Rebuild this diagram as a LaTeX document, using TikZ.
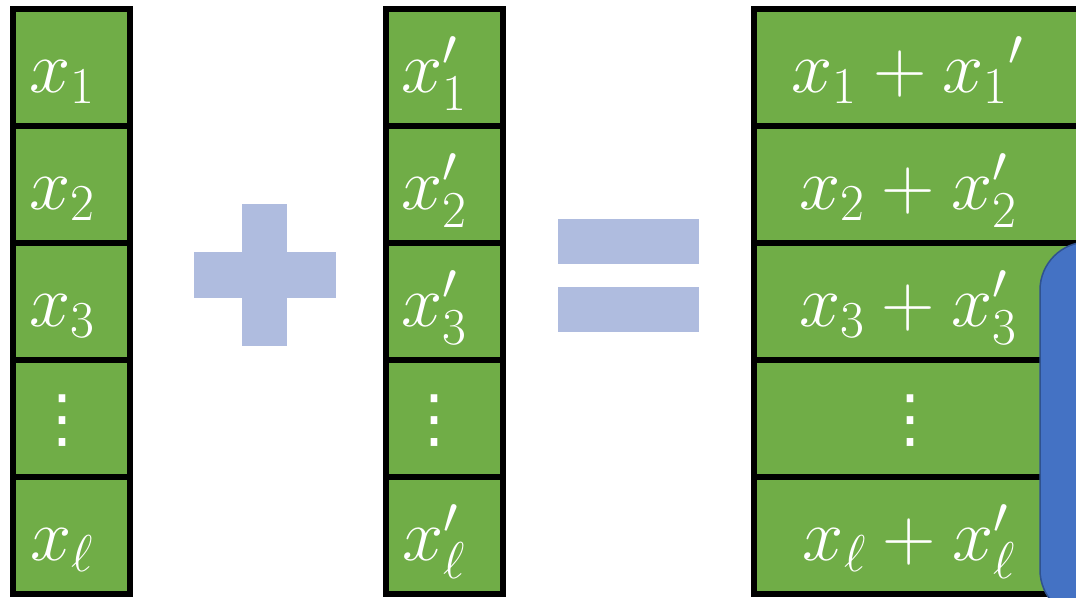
\documentclass[tikz,border=0pt]{standalone}
\usepackage{fix-cm}
\usepackage{fontspec}
\newfontfamily\dvsans{DejaVu Sans}
\definecolor{cellgreen}{HTML}{70AD47}
\definecolor{oplav}{HTML}{AFBCDF}
\definecolor{blobfill}{HTML}{4472C4}
\definecolor{blobdraw}{HTML}{2F528F}
\newcommand{\myvdots}{{\dvsans\fontsize{64}{64}\selectfont ⋮}}
\begin{document}
\begin{tikzpicture}[x=1pt,y=-1pt,
  cell/.style={draw=black, fill=cellgreen, line width=6pt, rectangle, inner sep=0pt, minimum height=117pt},
  lcell/.style={cell, minimum width=117pt},
  rcell/.style={cell, minimum width=346pt},
  lbl/.style={text=white, anchor=base, inner sep=0pt, font=\fontsize{74}{88}\selectfont},
  dts/.style={lbl, anchor=center},
  bar/.style={fill=oplav, draw=none, rectangle, inner sep=0pt}]
\useasboundingbox (0,0) rectangle (1076,597);
\clip (0,0) rectangle (1076,597);
% left column
\node[lcell] (a1) at (71.5,67.5) {};
\node[lcell] (a2) at (71.5,184.5) {};
\node[lcell] (a3) at (71.5,301.5) {};
\node[lcell] (a4) at (71.5,418.5) {};
\node[lcell] (a5) at (71.5,535.5) {};
\node[lbl] (ta1) at (62,92) {$x_1$};
\node[lbl] (ta2) at (62,209) {$x_2$};
\node[lbl] (ta3) at (62,326) {$x_3$};
\node[dts] (ta4) at (62,421) {\myvdots};
\node[lbl] (ta5) at (62,560) {$x_\ell$};
% middle column
\node[lcell] (b1) at (444.5,67.5) {};
\node[lcell] (b2) at (444.5,184.5) {};
\node[lcell] (b3) at (444.5,301.5) {};
\node[lcell] (b4) at (444.5,418.5) {};
\node[lcell] (b5) at (444.5,535.5) {};
\node[lbl] (tb1) at (434,92) {$x'_1$};
\node[lbl] (tb2) at (434,209) {$x'_2$};
\node[lbl] (tb3) at (434,326) {$x'_3$};
\node[dts] (tb4) at (434,421) {\myvdots};
\node[lbl] (tb5) at (434,560) {$x'_\ell$};
% right column
\node[rcell] (c1) at (927,67.5) {};
\node[rcell] (c2) at (927,184.5) {};
\node[rcell] (c3) at (927,301.5) {};
\node[rcell] (c4) at (927,418.5) {};
\node[rcell] (c5) at (927,535.5) {};
\node[lbl] (tc1) at (907,92) {$x_1+{x_1}'$};
\node[lbl] (tc2) at (908,209) {$x_2+x'_2$};
\node[lbl] (tc3) at (908,326) {$x_3+x'_3$};
\node[dts] (tc4) at (910,421) {\myvdots};
\node[lbl] (tc5) at (909,560) {$x_\ell+x'_\ell$};
% plus sign
\node[bar, minimum width=45pt, minimum height=142pt] (plusv) at (264.5,275) {};
\node[bar, minimum width=142pt, minimum height=46pt] (plush) at (264.5,275) {};
% equals sign
\node[bar, minimum width=141pt, minimum height=45pt] (eqtop) at (628.5,241.5) {};
\node[bar, minimum width=141pt, minimum height=45pt] (eqbot) at (628.5,309.5) {};
% blue rounded shape
\node[draw=blobdraw, fill=blobfill, line width=1.5pt, rounded corners=48pt, rectangle, inner sep=0pt,
      minimum width=90pt, minimum height=376pt] (blob) at (1085,430) {};
\end{tikzpicture}
\end{document}
